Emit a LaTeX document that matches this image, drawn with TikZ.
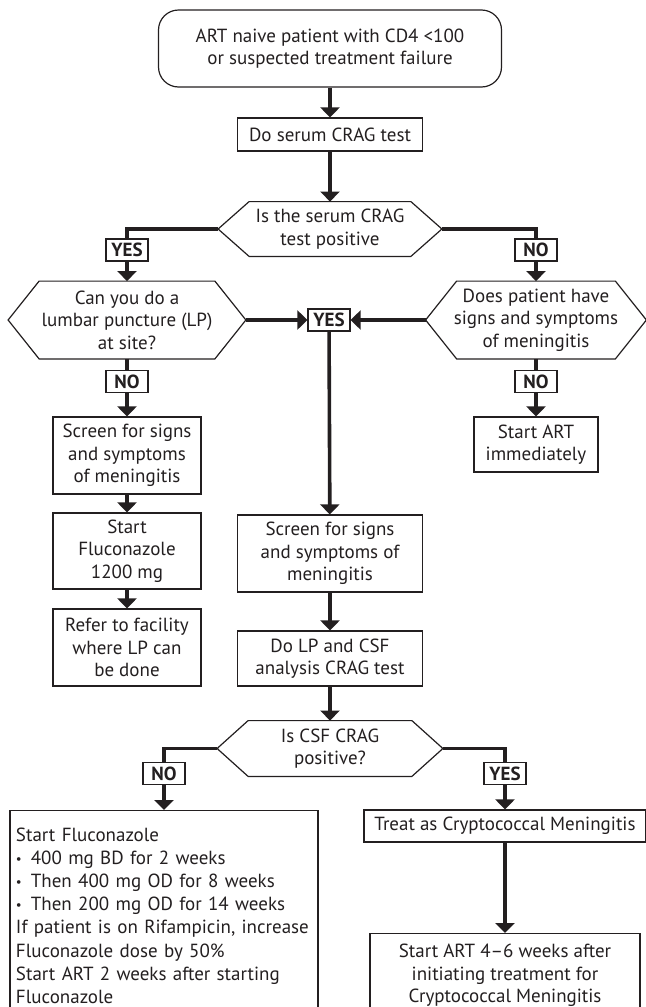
\documentclass[tikz,border=0pt]{standalone}
\usepackage{fontspec}
\setmainfont{PT Sans}
\usepackage{tikz}
\usetikzlibrary{calc,arrows.meta,positioning}
\definecolor{flowInk}{RGB}{35,31,32}

% outline of a decision node: a flat hexagon on the node's own box
\newcommand{\hexframe}[1]{%
  \draw[boxline] (#1.west) -- ([xshift=15.5pt]#1.north west) -- ([xshift=-15.5pt]#1.north east)
    -- (#1.east) -- ([xshift=-15.5pt]#1.south east) -- ([xshift=15.5pt]#1.south west) -- cycle;}
% small bullet for the regimen list
\newcommand{\regdot}{{\fontsize{6.5}{6.5}\selectfont\raisebox{0.6pt}{\textbullet}}\hspace{4.5pt}}

\tikzset{
  boxline/.style={draw=flowInk, line width=0.6pt},
  stepbox/.style={boxline, align=center, inner sep=1pt, text=flowInk,
    font=\fontsize{9.5}{11.2}\selectfont},
  decision/.style={align=center, inner sep=0pt, text=flowInk,
    font=\fontsize{9.5}{11.2}\selectfont},
  answer/.style={boxline, fill=white, inner sep=0pt, minimum width=21pt, minimum height=11pt,
    font=\fontsize{9.5}{11.2}\selectfont\bfseries, text=flowInk},
  link/.style={draw=flowInk, line width=1.8pt},
  flow/.style={link, -{Triangle[width=9.5pt,length=5pt]}}
}

\begin{document}
\begin{tikzpicture}[x=0.5pt,y=-0.5pt]
    \useasboundingbox (0,0) rectangle (646,1007);

    % =========================
    % Serum test
    % =========================
    \node[stepbox, rounded corners=10pt, minimum width=171.5pt, minimum height=38.5pt]
        (start) at (330,48.5) {ART naive patient with CD4 <100\\or suspected treatment failure};
    \node[stepbox, minimum width=92.5pt, minimum height=16.5pt]
        (serum) at (330,134.5) {Do serum CRAG test};
    \node[decision, minimum width=111.5pt, minimum height=27pt]
        (qserum) at (330,229) {Is the serum CRAG\\test positive};
    \hexframe{qserum}

    % answers to the serum test
    \node[answer] (yesA) at (127,250) {YES};
    \node[answer] (noA) at (536,250) {NO};

    % =========================
    % Second row of questions
    % =========================
    \node[decision, minimum width=118.5pt, minimum height=38.5pt]
        (qlp) at (127,320) {Can you do a\\lumbar puncture (LP)\\at site?};
    \hexframe{qlp}
    \node[decision, minimum width=110pt, minimum height=38.5pt]
        (qsym) at (536,320) {Does patient have\\signs and symptoms\\of meningitis};
    \hexframe{qsym}
    \node[answer] (yesB) at (329,320) {YES};
    \node[answer] (noB) at (127,381.5) {NO};
    \node[answer] (noC) at (536,381.5) {NO};

    % left column: no LP at site
    \node[stepbox, minimum width=74pt, minimum height=38.5pt]
        (screenL) at (127,455.5) {Screen for signs\\and symptoms\\of meningitis};
    \node[stepbox, minimum width=74pt, minimum height=38pt]
        (fluco) at (127,551) {Start\\Fluconazole\\1200 mg};
    \node[stepbox, minimum width=74pt, minimum height=38.5pt]
        (refer) at (127,647.5) {Refer to facility\\where LP can\\be done};

    % right column
    \node[stepbox, minimum width=62pt, minimum height=27.5pt]
        (artnow) at (536,444.5) {Start ART\\immediately};

    % middle column: LP done
    \node[stepbox, minimum width=92.5pt, minimum height=38.5pt]
        (screenM) at (330,553.5) {Screen for signs\\and symptoms of\\meningitis};
    \node[stepbox, minimum width=92.5pt, minimum height=27.5pt]
        (lpcsf) at (330,658.5) {Do LP and CSF\\analysis CRAG test};
    \node[decision, minimum width=112.5pt, minimum height=27.5pt]
        (qcsf) at (330,748.5) {Is CSF CRAG\\positive?};
    \hexframe{qcsf}
    \node[answer] (noD) at (164,773.5) {NO};
    \node[answer] (yesD) at (505,773.5) {YES};

    % =========================
    % Outcomes of the CSF test
    % =========================
    \node[stepbox, anchor=north, align=left, text width=148pt, inner sep=2.5pt,
          minimum width=154pt, minimum height=105pt, font=\fontsize{9.5}{11.6}\selectfont]
        (regimen) at (164,810) {Start Fluconazole\\
        \regdot 400 mg BD for 2 weeks\\
        \regdot Then 400 mg OD for 8 weeks\\
        \regdot Then 200 mg OD for 14 weeks\\
        If patient is on Rifampicin, increase\\
        Fluconazole dose by 50\%\\
        Start ART 2 weeks after starting\\
        Fluconazole};
    \node[stepbox, minimum width=141pt, minimum height=16pt]
        (treat) at (505,826) {Treat as Cryptococcal Meningitis};
    \node[stepbox, anchor=north, minimum width=135pt, minimum height=42pt]
        (artlate) at (505,933) {Start ART 4--6 weeks after\\initiating treatment for\\Cryptococcal Meningitis};

    % =========================
    % Connectors
    % =========================
    \draw[flow] (start) -- (serum);
    \draw[flow] (serum) -- (qserum);
    \draw[link] (qserum.west) -| (yesA.north);
    \draw[link] (qserum.east) -| (noA.north);
    \draw[flow] (yesA) -- (qlp);
    \draw[flow] (noA) -- (qsym);

    \draw[flow] (qlp.east) -- (yesB.west);
    \draw[flow] (qsym.west) -- (yesB.east);
    \draw[flow] (yesB) -- (screenM);

    \draw[link] (qlp.south) -- (noB.north);
    \draw[flow] (noB) -- (screenL);
    \draw[flow] (screenL) -- (fluco);
    \draw[flow] (fluco) -- (refer);

    \draw[link] (qsym.south) -- (noC.north);
    \draw[flow] (noC) -- (artnow);

    \draw[flow] (screenM) -- (lpcsf);
    \draw[flow] (lpcsf) -- (qcsf);
    \draw[link] (qcsf.west) -| (noD.north);
    \draw[link] (qcsf.east) -| (yesD.north);
    \draw[flow] (noD) -- (regimen);
    \draw[flow] (yesD) -- (treat);
    \draw[flow] (treat) -- (artlate);

\end{tikzpicture}
\end{document}
